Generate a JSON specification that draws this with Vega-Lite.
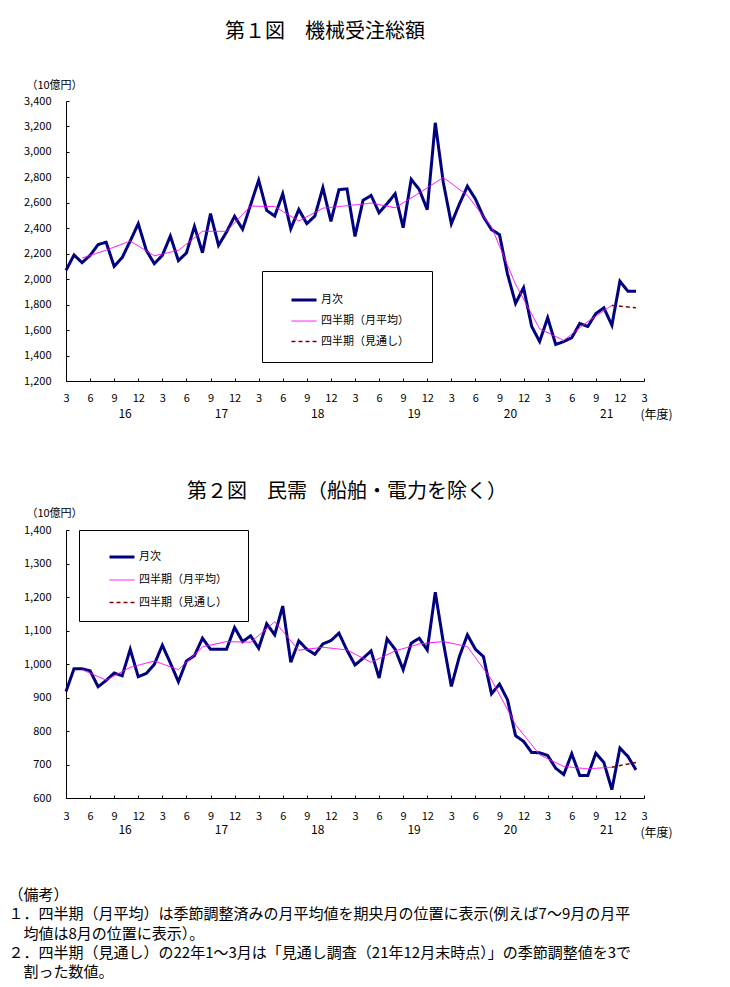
{
  "$schema": "https://vega.github.io/schema/vega-lite/v6.json",
  "background": "white",
  "padding": {"left": 8, "top": 22, "right": 5, "bottom": 5},
  "bounds": "flush",
  "spacing": 149,
  "config": {
    "font": "Noto Sans CJK JP",
    "view": {"stroke": null},
    "axis": {"grid": false, "domainColor": "black", "tickColor": "black", "labelColor": "black", "titleColor": "black", "labelFontSize": 11, "titleFontWeight": "normal", "labelFont": "Noto Sans CJK JP", "titleFont": "Noto Sans CJK JP"},
    "legend": {"labelFont": "Noto Sans CJK JP", "labelColor": "black"},
    "title": {"font": "Noto Sans CJK JP", "color": "black", "fontWeight": "normal"}
  },
  "title": {
    "text": ["（備考）", "１．四半期（月平均）は季節調整済みの月平均値を期央月の位置に表示(例えば7～9月の月平", "\u200b　均値は8月の位置に表示）。", "２．四半期（見通し）の22年1～3月は「見通し調査（21年12月末時点）」の季節調整値を3で", "\u200b　割った数値。"],
    "orient": "bottom", "anchor": "start", "frame": "bounds", "fontSize": 15, "lineHeight": 19.3, "dx": -15, "offset": 50
  },
  "datasets": {
    "c1": [
      {"i":0,"v":2070,"s":"月次"},{"i":1,"v":2190,"s":"月次"},{"i":2,"v":2130,"s":"月次"},{"i":3,"v":2187,"s":"月次"},{"i":4,"v":2272,"s":"月次"},{"i":5,"v":2290,"s":"月次"},{"i":6,"v":2100,"s":"月次"},{"i":7,"v":2170,"s":"月次"},{"i":8,"v":2300,"s":"月次"},{"i":9,"v":2436,"s":"月次"},{"i":10,"v":2227,"s":"月次"},{"i":11,"v":2122,"s":"月次"},
      {"i":12,"v":2187,"s":"月次"},{"i":13,"v":2339,"s":"月次"},{"i":14,"v":2146,"s":"月次"},{"i":15,"v":2206,"s":"月次"},{"i":16,"v":2415,"s":"月次"},{"i":17,"v":2208,"s":"月次"},{"i":18,"v":2515,"s":"月次"},{"i":19,"v":2266,"s":"月次"},{"i":20,"v":2371,"s":"月次"},{"i":21,"v":2494,"s":"月次"},{"i":22,"v":2392,"s":"月次"},{"i":23,"v":2585,"s":"月次"},
      {"i":24,"v":2778,"s":"月次"},{"i":25,"v":2540,"s":"月次"},{"i":26,"v":2496,"s":"月次"},{"i":27,"v":2671,"s":"月次"},{"i":28,"v":2396,"s":"月次"},{"i":29,"v":2548,"s":"月次"},{"i":30,"v":2436,"s":"月次"},{"i":31,"v":2496,"s":"月次"},{"i":32,"v":2719,"s":"月次"},{"i":33,"v":2454,"s":"月次"},{"i":34,"v":2703,"s":"月次"},{"i":35,"v":2710,"s":"月次"},
      {"i":36,"v":2336,"s":"月次"},{"i":37,"v":2619,"s":"月次"},{"i":38,"v":2658,"s":"月次"},{"i":39,"v":2522,"s":"月次"},{"i":40,"v":2593,"s":"月次"},{"i":41,"v":2671,"s":"月次"},{"i":42,"v":2404,"s":"月次"},{"i":43,"v":2784,"s":"月次"},{"i":44,"v":2705,"s":"月次"},{"i":45,"v":2546,"s":"月次"},{"i":46,"v":3229,"s":"月次"},{"i":47,"v":2760,"s":"月次"},
      {"i":48,"v":2436,"s":"月次"},{"i":49,"v":2590,"s":"月次"},{"i":50,"v":2730,"s":"月次"},{"i":51,"v":2630,"s":"月次"},{"i":52,"v":2490,"s":"月次"},{"i":53,"v":2390,"s":"月次"},{"i":54,"v":2350,"s":"月次"},{"i":55,"v":2040,"s":"月次"},{"i":56,"v":1810,"s":"月次"},{"i":57,"v":1933,"s":"月次"},{"i":58,"v":1630,"s":"月次"},{"i":59,"v":1510,"s":"月次"},
      {"i":60,"v":1697,"s":"月次"},{"i":61,"v":1487,"s":"月次"},{"i":62,"v":1510,"s":"月次"},{"i":63,"v":1540,"s":"月次"},{"i":64,"v":1652,"s":"月次"},{"i":65,"v":1628,"s":"月次"},{"i":66,"v":1730,"s":"月次"},{"i":67,"v":1775,"s":"月次"},{"i":68,"v":1638,"s":"月次"},{"i":69,"v":1984,"s":"月次"},{"i":70,"v":1905,"s":"月次"},{"i":71,"v":1905,"s":"月次"},
      {"i":2,"v":2166,"s":"四半期（月平均）"},{"i":5,"v":2228,"s":"四半期（月平均）"},{"i":8,"v":2300,"s":"四半期（月平均）"},{"i":11,"v":2184,"s":"四半期（月平均）"},{"i":14,"v":2226,"s":"四半期（月平均）"},{"i":17,"v":2376,"s":"四半期（月平均）"},{"i":20,"v":2376,"s":"四半期（月平均）"},{"i":23,"v":2575,"s":"四半期（月平均）"},
      {"i":26,"v":2570,"s":"四半期（月平均）"},{"i":29,"v":2457,"s":"四半期（月平均）"},{"i":32,"v":2558,"s":"四半期（月平均）"},{"i":35,"v":2577,"s":"四半期（月平均）"},{"i":38,"v":2598,"s":"四半期（月平均）"},{"i":41,"v":2561,"s":"四半期（月平均）"},{"i":44,"v":2677,"s":"四半期（月平均）"},{"i":47,"v":2800,"s":"四半期（月平均）"},
      {"i":50,"v":2658,"s":"四半期（月平均）"},{"i":53,"v":2410,"s":"四半期（月平均）"},{"i":56,"v":1960,"s":"四半期（月平均）"},{"i":59,"v":1610,"s":"四半期（月平均）"},{"i":62,"v":1519,"s":"四半期（月平均）"},{"i":65,"v":1668,"s":"四半期（月平均）"},{"i":68,"v":1794,"s":"四半期（月平均）"},
      {"i":68,"v":1794,"s":"四半期（見通し）"},{"i":71,"v":1775,"s":"四半期（見通し）"}
    ],
    "c2": [
      {"i":0,"v":918,"s":"月次"},{"i":1,"v":986,"s":"月次"},{"i":2,"v":986,"s":"月次"},{"i":3,"v":980,"s":"月次"},{"i":4,"v":932,"s":"月次"},{"i":5,"v":951,"s":"月次"},{"i":6,"v":973,"s":"月次"},{"i":7,"v":965,"s":"月次"},{"i":8,"v":1044,"s":"月次"},{"i":9,"v":962,"s":"月次"},{"i":10,"v":972,"s":"月次"},{"i":11,"v":999,"s":"月次"},
      {"i":12,"v":1056,"s":"月次"},{"i":13,"v":1003,"s":"月次"},{"i":14,"v":947,"s":"月次"},{"i":15,"v":1009,"s":"月次"},{"i":16,"v":1025,"s":"月次"},{"i":17,"v":1077,"s":"月次"},{"i":18,"v":1044,"s":"月次"},{"i":19,"v":1044,"s":"月次"},{"i":20,"v":1044,"s":"月次"},{"i":21,"v":1109,"s":"月次"},{"i":22,"v":1067,"s":"月次"},{"i":23,"v":1084,"s":"月次"},
      {"i":24,"v":1047,"s":"月次"},{"i":25,"v":1120,"s":"月次"},{"i":26,"v":1087,"s":"月次"},{"i":27,"v":1173,"s":"月次"},{"i":28,"v":1005,"s":"月次"},{"i":29,"v":1069,"s":"月次"},{"i":30,"v":1044,"s":"月次"},{"i":31,"v":1029,"s":"月次"},{"i":32,"v":1060,"s":"月次"},{"i":33,"v":1070,"s":"月次"},{"i":34,"v":1092,"s":"月次"},{"i":35,"v":1041,"s":"月次"},
      {"i":36,"v":997,"s":"月次"},{"i":37,"v":1017,"s":"月次"},{"i":38,"v":1039,"s":"月次"},{"i":39,"v":958,"s":"月次"},{"i":40,"v":1075,"s":"月次"},{"i":41,"v":1044,"s":"月次"},{"i":42,"v":983,"s":"月次"},{"i":43,"v":1062,"s":"月次"},{"i":44,"v":1077,"s":"月次"},{"i":45,"v":1042,"s":"月次"},{"i":46,"v":1214,"s":"月次"},{"i":47,"v":1065,"s":"月次"},
      {"i":48,"v":933,"s":"月次"},{"i":49,"v":1022,"s":"月次"},{"i":50,"v":1087,"s":"月次"},{"i":51,"v":1044,"s":"月次"},{"i":52,"v":1022,"s":"月次"},{"i":53,"v":911,"s":"月次"},{"i":54,"v":940,"s":"月次"},{"i":55,"v":893,"s":"月次"},{"i":56,"v":786,"s":"月次"},{"i":57,"v":769,"s":"月次"},{"i":58,"v":736,"s":"月次"},{"i":59,"v":735,"s":"月次"},
      {"i":60,"v":727,"s":"月次"},{"i":61,"v":689,"s":"月次"},{"i":62,"v":670,"s":"月次"},{"i":63,"v":732,"s":"月次"},{"i":64,"v":667,"s":"月次"},{"i":65,"v":667,"s":"月次"},{"i":66,"v":734,"s":"月次"},{"i":67,"v":706,"s":"月次"},{"i":68,"v":625,"s":"月次"},{"i":69,"v":749,"s":"月次"},{"i":70,"v":724,"s":"月次"},{"i":71,"v":684,"s":"月次"},
      {"i":2,"v":983,"s":"四半期（月平均）"},{"i":5,"v":952,"s":"四半期（月平均）"},{"i":8,"v":990,"s":"四半期（月平均）"},{"i":11,"v":1009,"s":"四半期（月平均）"},{"i":14,"v":983,"s":"四半期（月平均）"},{"i":17,"v":1051,"s":"四半期（月平均）"},{"i":20,"v":1067,"s":"四半期（月平均）"},{"i":23,"v":1065,"s":"四半期（月平均）"},
      {"i":26,"v":1126,"s":"四半期（月平均）"},{"i":29,"v":1041,"s":"四半期（月平均）"},{"i":32,"v":1050,"s":"四半期（月平均）"},{"i":35,"v":1042,"s":"四半期（月平均）"},{"i":38,"v":1005,"s":"四半期（月平均）"},{"i":41,"v":1039,"s":"四半期（月平均）"},{"i":44,"v":1060,"s":"四半期（月平均）"},{"i":47,"v":1067,"s":"四半期（月平均）"},
      {"i":50,"v":1052,"s":"四半期（月平均）"},{"i":53,"v":953,"s":"四半期（月平均）"},{"i":56,"v":819,"s":"四半期（月平均）"},{"i":59,"v":729,"s":"四半期（月平均）"},{"i":62,"v":694,"s":"四半期（月平均）"},{"i":65,"v":687,"s":"四半期（月平均）"},{"i":68,"v":692,"s":"四半期（月平均）"},
      {"i":68,"v":692,"s":"四半期（見通し）"},{"i":71,"v":706,"s":"四半期（見通し）"}
    ]
  },
  "vconcat": [
    {
      "width": 578, "height": 280,
      "title": {"text": "第１図　機械受注総額", "fontSize": 20, "anchor": "middle", "frame": "group", "dx": -30, "offset": 37},
      "data": {"name": "c1"},
      "mark": {"type": "line"},
      "encoding": {
        "x": {"field": "i", "type": "quantitative", "scale": {"domain": [0, 72], "nice": false, "zero": false},
          "axis": {
            "values": [0,3,6,9,12,15,18,21,24,27,30,33,36,39,42,45,48,51,54,57,60,63,66,69,72,7.3,19.3,31.3,43.3,55.3,67.3],
            "labelExpr": "datum.value % 3 == 0 ? '' + ((datum.value + 2) % 12 + 1) : '' + (floor(datum.value / 12) + 16)",
            "labelPadding": {"condition": {"test": "datum.value % 3 == 0", "value": 14}, "value": 30},
            "labelFontSize": {"condition": {"test": "datum.value % 3 == 0", "value": 11}, "value": 12},
            "tickOpacity": {"condition": {"test": "datum.value % 3 == 0", "value": 1}, "value": 0},
            "tickSize": -3, "labelOverlap": false, "labelFlush": false,
            "title": "(年度)", "titleX": 590, "titleY": 33, "titleAlign": "center", "titleBaseline": "middle", "titleFontSize": 12
          }},
        "y": {"field": "v", "type": "quantitative", "scale": {"domain": [1200, 3400], "nice": false, "zero": false},
          "axis": {"values": [1200,1400,1600,1800,2000,2200,2400,2600,2800,3000,3200,3400], "format": ",d", "tickSize": -3, "labelPadding": 18,
            "title": "（10億円）", "titleAngle": 0, "titleX": -12, "titleY": -16, "titleAlign": "center", "titleBaseline": "middle", "titleFontSize": 11}},
        "color": {"field": "s", "type": "nominal",
          "scale": {"domain": ["月次", "四半期（月平均）", "四半期（見通し）"], "range": ["#000080", "#FF00FF", "#800000"]},
          "legend": {"title": null, "orient": "none", "legendX": 196, "legendY": 170, "direction": "vertical", "strokeColor": "black", "fillColor": "white", "padding": 15, "symbolType": "stroke", "symbolSize": 625, "symbolOffset": 13, "labelOffset": 3, "rowPadding": 2, "labelFontSize": 11, "labelLimit": 300, "labelExpr": "datum.label + '　 \u200b'"}},
        "strokeDash": {"field": "s", "type": "nominal", "scale": {"domain": ["月次", "四半期（月平均）", "四半期（見通し）"], "range": [[1, 0], [1, 0], [4, 3]]}},
        "strokeWidth": {"field": "s", "type": "nominal", "scale": {"type": "ordinal", "domain": ["月次", "四半期（月平均）", "四半期（見通し）"], "range": [3, 1, 1.5]}}
      }
    },
    {
      "width": 578, "height": 268,
      "title": {"text": "第２図　民需（船舶・電力を除く）", "fontSize": 20, "anchor": "middle", "frame": "group", "dx": -8, "offset": 5},
      "data": {"name": "c2"},
      "mark": {"type": "line"},
      "encoding": {
        "x": {"field": "i", "type": "quantitative", "scale": {"domain": [0, 72], "nice": false, "zero": false},
          "axis": {
            "values": [0,3,6,9,12,15,18,21,24,27,30,33,36,39,42,45,48,51,54,57,60,63,66,69,72,7.3,19.3,31.3,43.3,55.3,67.3],
            "labelExpr": "datum.value % 3 == 0 ? '' + ((datum.value + 2) % 12 + 1) : '' + (floor(datum.value / 12) + 16)",
            "labelPadding": {"condition": {"test": "datum.value % 3 == 0", "value": 15}, "value": 29},
            "labelFontSize": {"condition": {"test": "datum.value % 3 == 0", "value": 11}, "value": 12},
            "tickOpacity": {"condition": {"test": "datum.value % 3 == 0", "value": 1}, "value": 0},
            "tickSize": -3, "labelOverlap": false, "labelFlush": false,
            "title": "(年度)", "titleX": 590, "titleY": 34, "titleAlign": "center", "titleBaseline": "middle", "titleFontSize": 12
          }},
        "y": {"field": "v", "type": "quantitative", "scale": {"domain": [600, 1400], "nice": false, "zero": false},
          "axis": {"values": [600,700,800,900,1000,1100,1200,1300,1400], "format": ",d", "tickSize": -3, "labelPadding": 18,
            "title": "（10億円）", "titleAngle": 0, "titleX": -12, "titleY": -17, "titleAlign": "center", "titleBaseline": "middle", "titleFontSize": 11}},
        "color": {"field": "s", "type": "nominal",
          "scale": {"domain": ["月次", "四半期（月平均）", "四半期（見通し）"], "range": ["#000080", "#FF00FF", "#800000"]},
          "legend": {"title": null, "orient": "none", "legendX": 13, "legendY": 0, "direction": "vertical", "strokeColor": "black", "fillColor": "white", "padding": 13, "symbolType": "stroke", "symbolSize": 625, "symbolOffset": 16, "labelOffset": 3, "rowPadding": 4, "labelFontSize": 11, "labelLimit": 300, "labelExpr": "datum.label + '　 \u200b'"}},
        "strokeDash": {"field": "s", "type": "nominal", "scale": {"domain": ["月次", "四半期（月平均）", "四半期（見通し）"], "range": [[1, 0], [1, 0], [4, 3]]}},
        "strokeWidth": {"field": "s", "type": "nominal", "scale": {"type": "ordinal", "domain": ["月次", "四半期（月平均）", "四半期（見通し）"], "range": [3, 1, 1.5]}}
      }
    }
  ],
  "resolve": {"scale": {"color": "independent", "strokeDash": "independent", "strokeWidth": "independent"}, "legend": {"color": "independent", "strokeDash": "independent", "strokeWidth": "independent"}}
}
